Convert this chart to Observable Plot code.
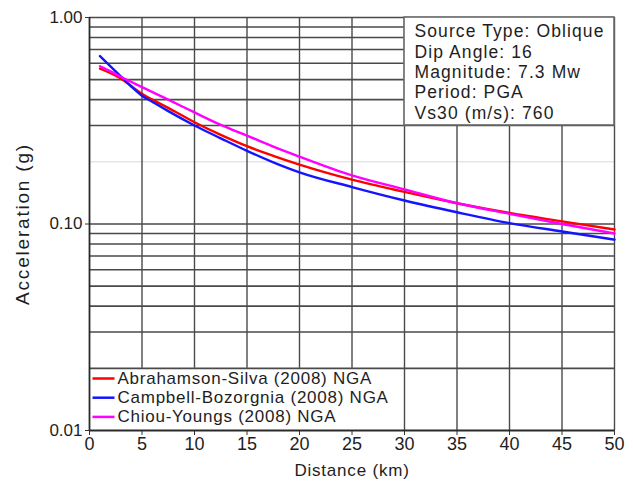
<!DOCTYPE html>
<html><head><meta charset="utf-8">
<script src="https://cdn.jsdelivr.net/npm/d3@7"></script>
<script src="https://cdn.jsdelivr.net/npm/@observablehq/plot@0.6"></script>
<style>
body{margin:0;background:#fff;}
svg text{font-family:"Liberation Sans",Arial,sans-serif;}
</style></head><body><div id="chart"></div>
<script>
// Data
const distances = [1, 2, 3, 4, 5, 6, 7.5, 10, 12.5, 15, 17.5, 20, 25, 30, 35, 40, 45, 50];
const abrahamsonSilva   = [0.565, 0.537, 0.505, 0.465, 0.427, 0.400, 0.365, 0.311, 0.270, 0.238, 0.214, 0.194, 0.164, 0.143, 0.126, 0.113, 0.103, 0.094];
const campbellBozorgnia = [0.650, 0.580, 0.518, 0.462, 0.418, 0.390, 0.352, 0.300, 0.260, 0.226, 0.199, 0.178, 0.151, 0.130, 0.114, 0.101, 0.092, 0.084];
const chiouYoungs       = [0.580, 0.548, 0.515, 0.487, 0.460, 0.435, 0.400, 0.347, 0.302, 0.268, 0.237, 0.212, 0.172, 0.147, 0.126, 0.112, 0.100, 0.090];
const seriesNames = ["Abrahamson-Silva (2008) NGA", "Campbell-Bozorgnia (2008) NGA", "Chiou-Youngs (2008) NGA"];
const seriesColors = ["#ff0000", "#1414ff", "#ff00ff"];
const xTicks = [0, 5, 10, 15, 20, 25, 30, 35, 40, 45, 50];
const yTicks = [1, 0.1, 0.01];
const xGrid = [5, 10, 15, 20, 25, 30, 35, 40, 45, 50];
const yGridDark = [1, 0.9, 0.8, 0.7, 0.6, 0.5, 0.4, 0.3, 0.1, 0.09, 0.08, 0.07, 0.06, 0.05, 0.04, 0.03];
const yGridLight = [0.2];
const yGridLegendTop = [0.02];
const infoLines = ["Source Type: Oblique", "Dip Angle: 16", "Magnitude: 7.3 Mw", "Period: PGA", "Vs30 (m/s): 760"];
const xTitle = "Distance (km)";
const yTitle = "Acceleration (g)";

const seriesValues = [abrahamsonSilva, campbellBozorgnia, chiouYoungs];
const rows = [];
seriesNames.forEach((name, s) => distances.forEach((d, i) => rows.push({model: name, distance: d, acc: seriesValues[s][i]})));

const infoBox = [{x1: 30, x2: 50, y1: 0.3, y2: 1}];
const legendBox = [{x1: 0, x2: 29, y1: 0.01, y2: 0.02}];
const infoText = [{x: 30, y: 1, text: infoLines.join("\n")}];
const xTitleAt = [{x: 25, y: 0.01, text: xTitle}];
const yTitleAt = [{x: 0, y: 0.1, text: yTitle}];

const lineSymbol = {draw(ctx) { ctx.moveTo(-11, 0); ctx.lineTo(11, 0); }};
const gridColor = "#4a4a4a";
const ink = "#1e1e1e";

const chart = Plot.plot({
  width: 633, height: 489,
  marginLeft: 89, marginRight: 19, marginTop: 17, marginBottom: 59,
  style: {fontFamily: '"Liberation Sans", Arial, sans-serif', background: "#fff", color: ink, overflow: "visible"},
  x: {domain: [0, 50]},
  y: {type: "log", domain: [0.01, 1]},
  color: {domain: seriesNames, range: seriesColors},
  marks: [
    Plot.ruleY(yGridLight, {stroke: "#d8d8d8", strokeWidth: 1}),
    Plot.ruleX(xGrid, {stroke: gridColor, strokeWidth: 1.4}),
    Plot.ruleY(yGridDark, {stroke: gridColor, strokeWidth: 1.6}),
    Plot.rect(legendBox, {x1: "x1", x2: "x2", y1: "y1", y2: "y2", fill: "white"}),
    Plot.ruleY(yGridLegendTop, {stroke: gridColor, strokeWidth: 1.6}),
    Plot.rect(infoBox, {x1: "x1", x2: "x2", y1: "y1", y2: "y2", fill: "white", stroke: "#6a6a6a", strokeWidth: 1.6}),
    Plot.axisY({ticks: yTicks, tickFormat: d3.format(".2f"), tickSize: 4, tickPadding: 3, fontSize: 17, label: null, stroke: "#333"}),
    Plot.axisX({ticks: xTicks, tickSize: 5, tickPadding: 2, fontSize: 18, label: null, stroke: "#333"}),
    Plot.ruleX([0], {stroke: "#2a2a2a", strokeWidth: 1.8}),
    Plot.ruleY([0.01], {stroke: "#2a2a2a", strokeWidth: 1.8}),
    Plot.line(rows, {x: "distance", y: "acc", stroke: "model", strokeWidth: 2.4, curve: "monotone-x"}),
    Plot.text(infoText, {x: "x", y: "y", text: "text", dx: 10, dy: 5, textAnchor: "start", lineAnchor: "top", lineHeight: 1.17, fontSize: 17.5, fill: ink}),
    ...seriesNames.map((name, i) => Plot.dot([name], {frameAnchor: "bottom-left", dx: 14, dy: -52 + i * 19.2, symbol: lineSymbol, stroke: seriesColors[i], strokeWidth: 2.5, fill: "none"})),
    ...seriesNames.map((name, i) => Plot.text([name], {frameAnchor: "bottom-left", dx: 28, dy: -52 + i * 19.2, textAnchor: "start", lineAnchor: "middle", fontSize: 17, fill: ink})),
    Plot.text(xTitleAt, {x: "x", y: "y", text: "text", dy: 40, lineAnchor: "middle", fontSize: 17, fill: ink}),
    Plot.text(yTitleAt, {x: "x", y: "y", text: "text", dx: -67, rotate: -90, lineAnchor: "middle", fontSize: 19, fill: ink})
  ]
});

// letter spacing to match the wider text of the reference
const spacing = new Map([[xTitle, "0.8px"], [yTitle, "1.8px"], ...seriesNames.map(n => [n, "0.75px"])]);
d3.select(chart).selectAll("text").each(function () {
  const t = this.textContent;
  if (spacing.has(t)) this.style.letterSpacing = spacing.get(t);
  else if (t.startsWith(infoLines[0])) this.style.letterSpacing = "1.1px";
});
document.getElementById("chart").appendChild(chart);
</script></body></html>
